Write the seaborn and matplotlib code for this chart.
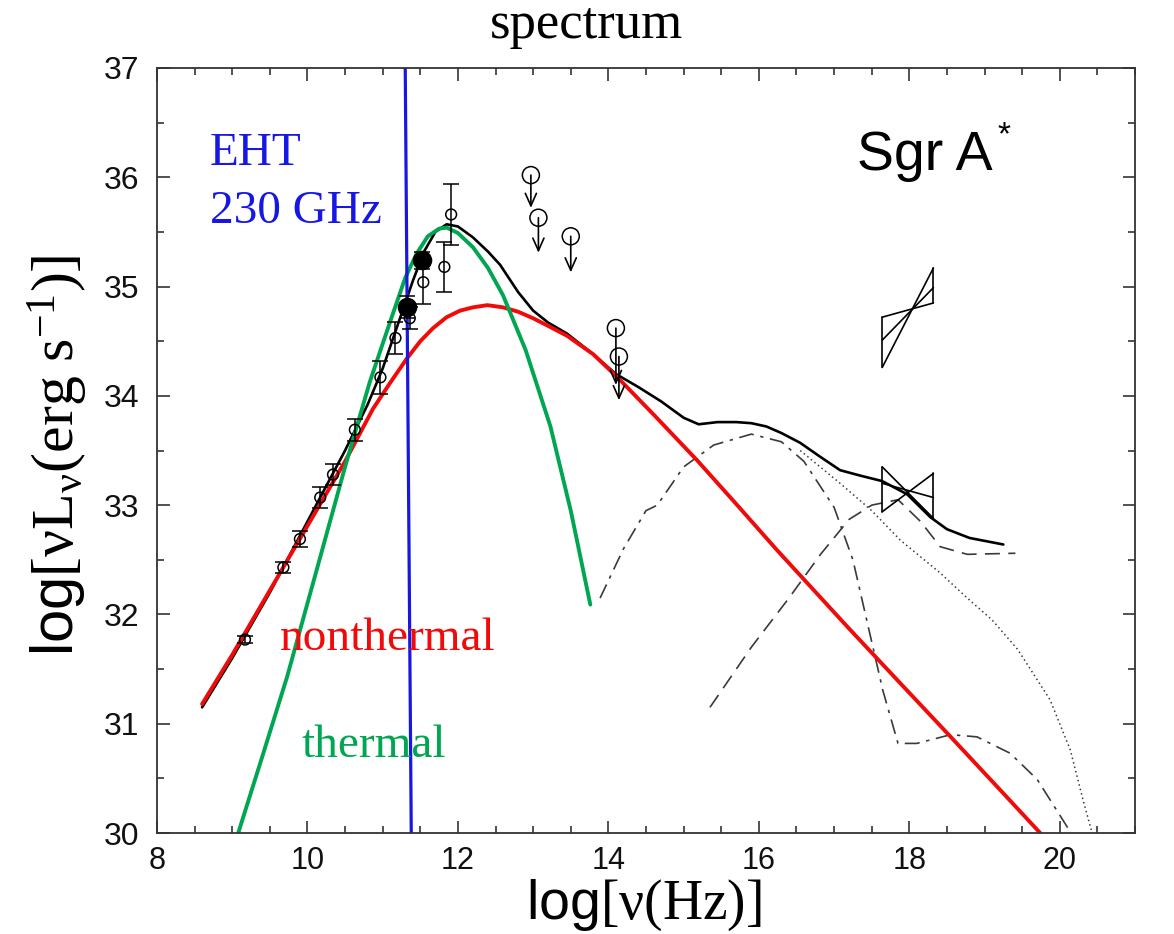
import matplotlib
matplotlib.use('Agg')
import matplotlib.pyplot as plt
import seaborn as sns
from matplotlib.ticker import MultipleLocator

# --- curves: log nu (Hz) vs log nuL_nu (erg/s) ---
nonthermal_x = [8.60, 9.00, 9.50, 10.00, 10.50, 10.87, 11.10, 11.32, 11.50, 11.67, 11.85,
                12.03, 12.20, 12.39, 12.60, 12.80, 13.00, 13.20, 13.45, 13.80, 14.12, 14.60,
                15.18, 15.70, 16.24, 16.60, 17.20, 17.84, 18.55, 19.20, 19.74]
nonthermal_y = [31.18, 31.63, 32.22, 32.81, 33.40, 33.88, 34.12, 34.34, 34.50, 34.62, 34.72,
                34.78, 34.81, 34.83, 34.81, 34.77, 34.71, 34.64, 34.55, 34.38, 34.17, 33.83,
                33.41, 33.01, 32.59, 32.32, 31.87, 31.40, 30.88, 30.40, 30.00]

thermal_x = [9.08, 9.40, 9.73, 10.10, 10.50, 10.83, 11.10, 11.30, 11.45, 11.60, 11.75, 11.85,
             12.00, 12.20, 12.40, 12.60, 12.90, 13.23, 13.50, 13.76]
thermal_y = [30.00, 30.70, 31.43, 32.35, 33.35, 34.13, 34.68, 35.08, 35.30, 35.46, 35.53, 35.54,
             35.49, 35.36, 35.17, 34.92, 34.42, 33.72, 32.95, 32.09]

total_x = [8.60, 9.00, 9.50, 10.00, 10.50, 10.80, 11.00, 11.20, 11.40, 11.55, 11.70, 11.85,
           12.00, 12.20, 12.40, 12.56, 12.80, 13.00, 13.20, 13.45, 13.80, 14.10, 14.40, 14.70,
           15.00, 15.20, 15.45, 15.70, 15.90, 16.10, 16.30, 16.55, 16.80, 17.08, 17.35, 17.64,
           17.97, 18.28, 18.50, 18.80, 19.25]
total_y = [31.15, 31.60, 32.20, 32.85, 33.50, 33.92, 34.25, 34.65, 35.05, 35.32, 35.50, 35.57,
           35.55, 35.45, 35.32, 35.20, 34.95, 34.78, 34.67, 34.57, 34.38, 34.20, 34.08, 33.95,
           33.80, 33.74, 33.76, 33.76, 33.75, 33.72, 33.66, 33.57, 33.45, 33.32, 33.27, 33.22,
           33.10, 32.89, 32.78, 32.70, 32.64]

dashdot_x = [13.89, 14.20, 14.50, 14.65, 15.00, 15.40, 15.90, 16.30, 16.60, 17.00, 17.25,
             17.45, 17.65, 17.85, 18.10, 18.55, 18.90, 19.34, 19.70, 20.15]
dashdot_y = [32.15, 32.60, 32.95, 33.00, 33.35, 33.55, 33.65, 33.58, 33.40, 32.98, 32.50,
             31.90, 31.30, 30.82, 30.82, 30.90, 30.88, 30.73, 30.49, 30.00]

dashed_x = [15.35, 15.90, 16.40, 16.82, 17.20, 17.50, 17.85, 18.15, 18.41, 18.77, 19.41]
dashed_y = [31.15, 31.70, 32.15, 32.55, 32.87, 33.00, 33.05, 32.85, 32.62, 32.55, 32.56]

dotted_x = [16.55, 17.08, 17.50, 17.88, 18.41, 18.77, 19.10, 19.44, 19.87, 20.14, 20.31, 20.43]
dotted_y = [33.50, 33.20, 32.95, 32.68, 32.38, 32.15, 31.95, 31.68, 31.22, 30.76, 30.30, 30.00]

eht_x = [11.30, 11.38]
eht_y = [37.0, 30.0]

# --- observations ---
radio_x = [9.17, 9.68, 9.90, 10.17, 10.34, 10.63, 10.97, 11.17, 11.36, 11.54, 11.82, 11.91]
radio_y = [31.77, 32.43, 32.69, 33.07, 33.28, 33.69, 34.17, 34.53, 34.71, 35.04, 35.18, 35.66]
radio_err = [0.03, 0.05, 0.07, 0.10, 0.10, 0.10, 0.15, 0.15, 0.10, 0.20, 0.23, 0.28]

filled_x = [11.32, 11.52]
filled_y = [34.81, 35.24]
filled_err = [0.10, 0.08]

limit_x = [12.97, 13.07, 13.50, 14.10, 14.14]
limit_y = [36.02, 35.63, 35.46, 34.62, 34.36]
limit_tip = [35.72, 35.31, 35.13, 34.10, 33.96]

bowtie_x = [17.64, 18.32]
bowtie_top = [(34.72, 34.85), (34.26, 35.17), (34.51, 34.99)]
bowtie_low = [(33.35, 32.88), (32.94, 33.29), (33.20, 33.07)]

RED = '#f00a0a'
GREEN = '#00a651'
BLUE = '#1717e3'
GREY = '#3a3a3a'

sns.set_theme(style='ticks')
plt.rcParams['font.family'] = ['Liberation Sans', 'DejaVu Sans']
plt.rcParams['text.color'] = 'black'
plt.rcParams['mathtext.fontset'] = 'custom'
plt.rcParams['mathtext.rm'] = 'Liberation Serif'
plt.rcParams['mathtext.it'] = 'Liberation Serif:italic'
plt.rcParams['mathtext.sf'] = 'Liberation Sans'

fig = plt.figure(figsize=(11.74, 9.34), dpi=100)
ax = fig.add_axes([0.1337, 0.1081, 0.8331, 0.8191])

sns.lineplot(x=dashdot_x, y=dashdot_y, color=GREY, lw=1.2, linestyle=(0, (9, 4, 2, 4)),
             sort=False, estimator=None, ax=ax)
sns.lineplot(x=dashed_x, y=dashed_y, color=GREY, lw=1.2, linestyle=(0, (9, 5)),
             sort=False, estimator=None, ax=ax)
sns.lineplot(x=dotted_x, y=dotted_y, color=GREY, lw=1.1, linestyle=(0, (1, 2)),
             sort=False, estimator=None, ax=ax)
sns.lineplot(x=total_x, y=total_y, color='black', lw=1.9, sort=False, estimator=None, ax=ax)
sns.lineplot(x=nonthermal_x, y=nonthermal_y, color=RED, lw=2.8, sort=False, estimator=None, ax=ax)
sns.lineplot(x=thermal_x, y=thermal_y, color=GREEN, lw=2.8, sort=False, estimator=None, ax=ax)
sns.lineplot(x=eht_x, y=eht_y, color=BLUE, lw=2.3, sort=False, estimator=None, ax=ax)

# data points
ax.errorbar(radio_x, radio_y, yerr=radio_err, fmt='none', ecolor='black', elinewidth=1.1,
            capsize=5.5, capthick=1.1, zorder=4)
sns.scatterplot(x=radio_x, y=radio_y, s=60, facecolors='none', edgecolor='black',
                linewidth=1.1, ax=ax, zorder=5)
ax.errorbar(filled_x, filled_y, yerr=filled_err, fmt='none', ecolor='black', elinewidth=1.1,
            capsize=5.5, capthick=1.1, zorder=4)
sns.scatterplot(x=filled_x, y=filled_y, s=170, color='black', edgecolor='black', ax=ax, zorder=5)

# upper limits
for x, y, t in zip(limit_x, limit_y, limit_tip):
    ax.annotate('', xy=(x, t), xytext=(x, y),
                arrowprops=dict(arrowstyle='->,head_length=0.9,head_width=0.4', lw=1.2,
                                color='black', shrinkA=0, shrinkB=0, mutation_scale=10),
                zorder=4)
sns.scatterplot(x=limit_x, y=limit_y, s=150, facecolors='none', edgecolor='black',
                linewidth=1.1, ax=ax, zorder=5)

# X-ray bowties
for lines in (bowtie_top, bowtie_low):
    for yl, yr in lines:
        ax.plot(bowtie_x, [yl, yr], color='black', lw=1.2)
    lefts = [p[0] for p in lines]
    rights = [p[1] for p in lines]
    ax.plot([bowtie_x[0]] * 2, [min(lefts), max(lefts)], color='black', lw=1.2)
    ax.plot([bowtie_x[1]] * 2, [min(rights), max(rights)], color='black', lw=1.2)

ax.set_xlim(8, 21)
ax.set_ylim(30, 37)
ax.xaxis.set_major_locator(MultipleLocator(2))
ax.xaxis.set_minor_locator(MultipleLocator(0.5))
ax.yaxis.set_major_locator(MultipleLocator(1))
ax.yaxis.set_minor_locator(MultipleLocator(0.5))
ax.tick_params(which='both', direction='in', top=True, right=True, color='#333333', width=1.2)
ax.tick_params(which='major', length=9, labelsize=23, labelcolor='#111111')
ax.tick_params(which='minor', length=5)
ax.tick_params(axis='y', pad=13)
ax.tick_params(axis='x', pad=9, labelsize=22)
for s in ax.spines.values():
    s.set_color('#333333')
    s.set_linewidth(1.3)
ax.set_xlabel('')
ax.set_ylabel('')

fig.text(0.5, 0.959, 'spectrum', ha='center', va='baseline', fontsize=38,
         family='Liberation Serif')
fig.text(0.548, 0.001, r'$\mathsf{log}[\mathrm{\nu(Hz)}]$', ha='center', va='bottom',
         fontsize=40)
fig.text(0.049, 0.513, r'$\mathsf{log}[\mathrm{\nu L_{\nu}(erg\ s^{-1})}]$', ha='center',
         va='center', rotation=90, fontsize=43)

fig.text(0.1789, 0.8233, 'EHT', color=BLUE, fontsize=34, family='Liberation Serif',
         va='baseline')
fig.text(0.1789, 0.7612, '230 GHz', color=BLUE, fontsize=34, family='Liberation Serif',
         va='baseline')
fig.text(0.2385, 0.3041, 'nonthermal', color=RED, fontsize=34, family='Liberation Serif',
         va='baseline')
fig.text(0.2572, 0.1895, 'thermal', color=GREEN, fontsize=34, family='Liberation Serif',
         va='baseline')
fig.text(0.730, 0.818, 'Sgr A', color='black', fontsize=40, va='baseline')
fig.text(0.855, 0.846, '*', color='black', fontsize=24, va='baseline', ha='center')

fig.savefig('out.png', dpi=100)
